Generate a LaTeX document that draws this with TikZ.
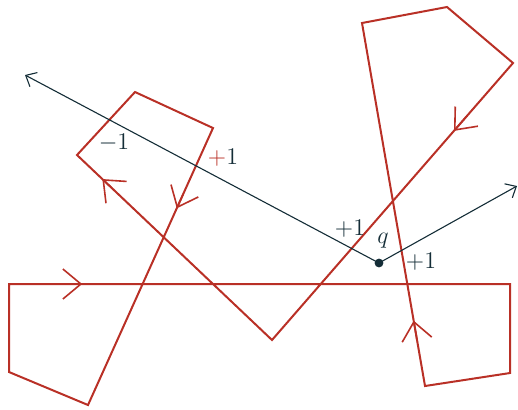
\documentclass[tikz,border=0pt]{standalone}
\usetikzlibrary{arrows.meta,calc}
\definecolor{curvered}{RGB}{185,48,38}
\definecolor{raycol}{RGB}{20,45,55}
\begin{document}
\begin{tikzpicture}[x=0.5pt,y=-0.5pt,
  curve/.style={draw=curvered,line width=1pt,line join=miter},
  dirmark/.style={draw=curvered,line width=0.8pt,-{Straight Barb[length=9pt,width=15pt]}},
  ray/.style={draw=raycol,line width=0.55pt,-{Straight Barb[length=4.5pt,width=8pt]}},
  lab/.style={text=raycol,font=\fontsize{12.5}{15}\selectfont,inner sep=0pt}]
\useasboundingbox (0,0) rectangle (518,409);
% polygon vertices
\coordinate (p1) at (9,284);
\coordinate (p2) at (510,284);
\coordinate (p3) at (510,373);
\coordinate (p4) at (425,386);
\coordinate (p5) at (362,23);
\coordinate (p6) at (447,7);
\coordinate (p7) at (513,63);
\coordinate (p8) at (272,340);
\coordinate (p9) at (77,155);
\coordinate (p10) at (135,92);
\coordinate (p11) at (213,128);
\coordinate (p12) at (88,405);
\coordinate (p13) at (9,372);
\path[curve] (p1) -- (p2) -- (p3) -- (p4) -- (p5) -- (p6) -- (p7) -- (p8) -- (p9) -- (p10) -- (p11) -- (p12) -- (p13) -- cycle;
% direction marks
\path[dirmark] ($(p1)!0.10!(p2)$) -- ($(p1)!0.146!(p2)$);
\path[dirmark] ($(p4)!0.13!(p5)$) -- ($(p4)!0.18!(p5)$);
\path[dirmark] ($(p7)!0.19!(p8)$) -- ($(p7)!0.245!(p8)$);
\path[dirmark] ($(p8)!0.82!(p9)$) -- ($(p8)!0.87!(p9)$);
\path[dirmark] ($(p11)!0.24!(p12)$) -- ($(p11)!0.29!(p12)$);
% point q and rays
\coordinate (q) at (379,263);
\coordinate (r1) at (25,75);
\coordinate (r2) at (517,186);
\path[ray] (q) -- (r1);
\path[ray] (q) -- (r2);
\fill[raycol] (q) circle (2.2pt);
% labels
\node[lab] (qlab) at (383,241) {$q$};
\node[lab] (m1) at (114,143) {$-1$};
\node[lab] (a1) at (223,158) {\textcolor{curvered}{$+$}$1$};
\node[lab] (a2) at (350,229) {$+1$};
\node[lab] (a3) at (421,262) {$+1$};
\end{tikzpicture}
\end{document}
